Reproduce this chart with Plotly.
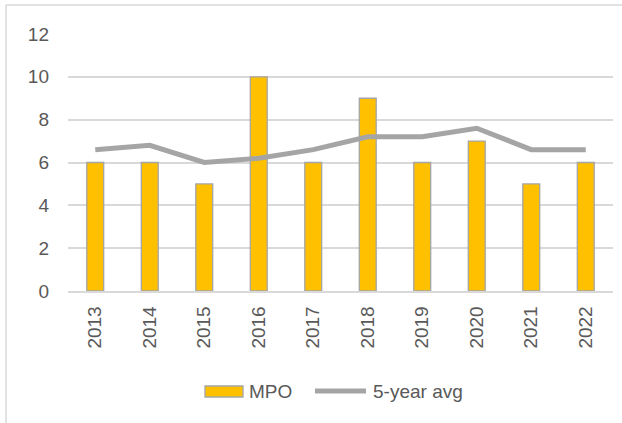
import plotly.graph_objects as go

years = ["2013", "2014", "2015", "2016", "2017", "2018", "2019", "2020", "2021", "2022"]
mpo = [6, 6, 5, 10, 6, 9, 6, 7, 5, 6]
avg5 = [6.6, 6.8, 6.0, 6.2, 6.6, 7.2, 7.2, 7.6, 6.6, 6.6]

W, H = 622, 423
L, R, T, B = 68, 9, 34, 132
pw, ph = W - L - R, H - T - B

def px(x):
    return (x - L) / pw

def py(y):
    return (H - B - y) / ph

BAR = "#FFC000"
GRAY = "#A5A5A5"
TXT = "#595959"
FONT = "Liberation Sans, Arial, sans-serif"

fig = go.Figure()
fig.add_trace(go.Bar(x=years, y=mpo, name="MPO", width=0.31,
                     marker=dict(color=BAR, line=dict(color=GRAY, width=1.3))))
fig.add_trace(go.Scatter(x=years, y=avg5, name="5-year avg", mode="lines",
                         line=dict(color=GRAY, width=5)))

shapes = [
    # chart border (left and top)
    dict(type="line", xref="paper", yref="paper", x0=px(6), x1=px(6), y0=py(5), y1=py(H + 5),
         line=dict(color="#D9D9D9", width=1.5)),
    dict(type="line", xref="paper", yref="paper", x0=px(6), x1=px(W + 5), y0=py(5), y1=py(5),
         line=dict(color="#D9D9D9", width=1.5)),
    # legend swatches
    dict(type="rect", xref="paper", yref="paper", x0=px(205), x1=px(243), y0=py(386), y1=py(397),
         fillcolor=BAR, line=dict(color=GRAY, width=1.3)),
    dict(type="line", xref="paper", yref="paper", x0=px(315), x1=px(366), y0=py(391), y1=py(391),
         line=dict(color=GRAY, width=5)),
]
annotations = [
    dict(xref="paper", yref="paper", x=px(247), y=py(391), text="MPO", showarrow=False,
         xanchor="left", yanchor="middle", font=dict(family=FONT, size=19, color=TXT)),
    dict(xref="paper", yref="paper", x=px(371), y=py(391), text="5-year avg", showarrow=False,
         xanchor="left", yanchor="middle", font=dict(family=FONT, size=19, color=TXT)),
]

fig.update_layout(
    width=W, height=H,
    margin=dict(l=L, r=R, t=T, b=B, pad=0),
    paper_bgcolor="white", plot_bgcolor="white",
    showlegend=False,
    shapes=shapes, annotations=annotations,
    font=dict(family=FONT, size=19, color=TXT),
    xaxis=dict(type="category", tickangle=-90, showgrid=False, showline=True,
               linecolor="#D9D9D9", linewidth=1.5, ticks="", ticklabelstandoff=6,
               tickfont=dict(family=FONT, size=19, color=TXT)),
    yaxis=dict(range=[0, 12], dtick=2, showgrid=True, gridcolor="#D9D9D9", gridwidth=1.5,
               zeroline=False, showline=False, ticks="", ticklabelstandoff=18,
               tickfont=dict(family=FONT, size=19, color=TXT)),
)

fig.write_html("out.html")
